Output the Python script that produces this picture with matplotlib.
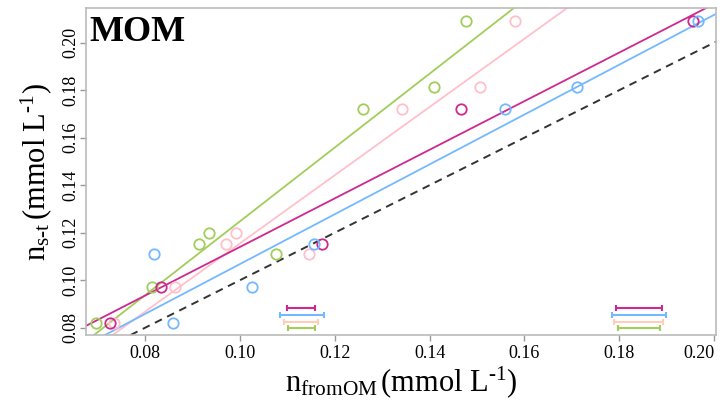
import matplotlib
matplotlib.use("Agg")
import matplotlib.pyplot as plt

plt.rcParams['font.family'] = ['Liberation Serif', 'DejaVu Serif']
plt.rcParams['mathtext.fontset'] = 'custom'
plt.rcParams['mathtext.rm'] = 'Liberation Serif'
plt.rcParams['mathtext.it'] = 'Liberation Serif:italic'

# ---- data ----
green_x = [0.0696, 0.0814, 0.0913, 0.0935, 0.1076, 0.1259, 0.1410, 0.1477]
green_y = [0.0819, 0.0970, 0.1151, 0.1200, 0.1112, 0.1722, 0.1812, 0.2093]
pink_x = [0.0734, 0.0863, 0.0970, 0.0992, 0.1146, 0.1341, 0.1506, 0.1581]
pink_y = [0.0819, 0.0970, 0.1151, 0.1200, 0.1112, 0.1722, 0.1812, 0.2093]
mag_x = [0.0725, 0.0833, 0.1173, 0.1466, 0.1956]
mag_y = [0.0819, 0.0970, 0.1151, 0.1722, 0.2093]
blue_x = [0.0818, 0.0858, 0.1025, 0.1157, 0.1558, 0.1711, 0.1967]
blue_y = [0.1112, 0.0819, 0.0970, 0.1151, 0.1722, 0.1812, 0.2093]

# regression lines (slope, intercept)
green_fit = (1.554, -0.0306)
pink_fit = (1.436, -0.0281)
mag_fit = (1.023, 0.0117)
blue_fit = (1.049, 0.0019)

# error bars: two groups, (lo, hi) per series; row heights
eb_rows_y = [0.0883, 0.0853, 0.0825, 0.0799]  # magenta, blue, peach, green
eb_left = [(0.1100, 0.1159), (0.1084, 0.1177), (0.1093, 0.1165), (0.1102, 0.1158)]
eb_right = [(0.1793, 0.1891), (0.1784, 0.1898), (0.1788, 0.1893), (0.1798, 0.1886)]

xticks = [0.08, 0.10, 0.12, 0.14, 0.16, 0.18, 0.20]
yticks = [0.08, 0.10, 0.12, 0.14, 0.16, 0.18, 0.20]

c_green = '#a2cd5a'
c_pink = '#ffc0cb'
c_mag = '#cd2990'
c_blue = '#74b9ff'
c_peach = '#ffcdb8'

fig = plt.figure(figsize=(7.21, 4.08), dpi=100)
ax = fig.add_axes([0.1193, 0.1789, 0.993 - 0.1193, 0.9804 - 0.1789])
ax.set_xlim(0.0675, 0.2004)
ax.set_ylim(0.0769, 0.2146)

ms = 7.5
mew = 1.3
for xs, ys, c in [(green_x, green_y, c_green), (pink_x, pink_y, c_pink),
                  (mag_x, mag_y, c_mag), (blue_x, blue_y, c_blue)]:
    ax.plot(xs, ys, 'o', mfc='none', mec=c, ms=ms, mew=mew, zorder=3)

for (m, b), c in [(green_fit, c_green), (pink_fit, c_pink),
                  (mag_fit, c_mag), (blue_fit, c_blue)]:
    ax.axline((0, b), slope=m, color=c, lw=1.3, zorder=2)

ax.axline((0, 0), slope=1, color='#333333', lw=1.4, ls=(0, (4, 3)), zorder=2)

eb_colors = [c_mag, c_blue, c_peach, c_green]
for group in (eb_left, eb_right):
    for (lo, hi), yy, c in zip(group, eb_rows_y, eb_colors):
        ax.errorbar([(lo + hi) / 2], [yy], xerr=[[(hi - lo) / 2], [(hi - lo) / 2]],
                    fmt='none', ecolor=c, elinewidth=1.5, capsize=2.5, capthick=1.5)

ax.set_xticks(xticks)
ax.set_xticklabels([f'{v:.2f}' for v in xticks])
ax.get_xticklabels()[-1].set_ha('right')
ax.set_yticks(yticks)
ax.set_yticklabels([f'{v:.2f}' for v in yticks], rotation=90, va='center')
ax.tick_params(axis='both', labelsize=13, color='#999999', length=4, width=1, pad=3)
ax.tick_params(axis='y', pad=1)
for s in ax.spines.values():
    s.set_color('#bbbbbb')
    s.set_linewidth(1.2)

ax.set_xlabel(r'$\mathrm{n_{fromOM}\,(mmol\ L^{\text{-}1})}$', fontsize=22, labelpad=2)
ax.set_ylabel(r'$\mathrm{n_{s\text{-}t}\,(mmol\ L^{\text{-}1})}$', fontsize=22, labelpad=6)

ax.text(0.005, 0.975, 'MOM', transform=ax.transAxes, fontsize=26, fontweight='bold',
        va='top', ha='left')

fig.savefig('out.png', dpi=100)
